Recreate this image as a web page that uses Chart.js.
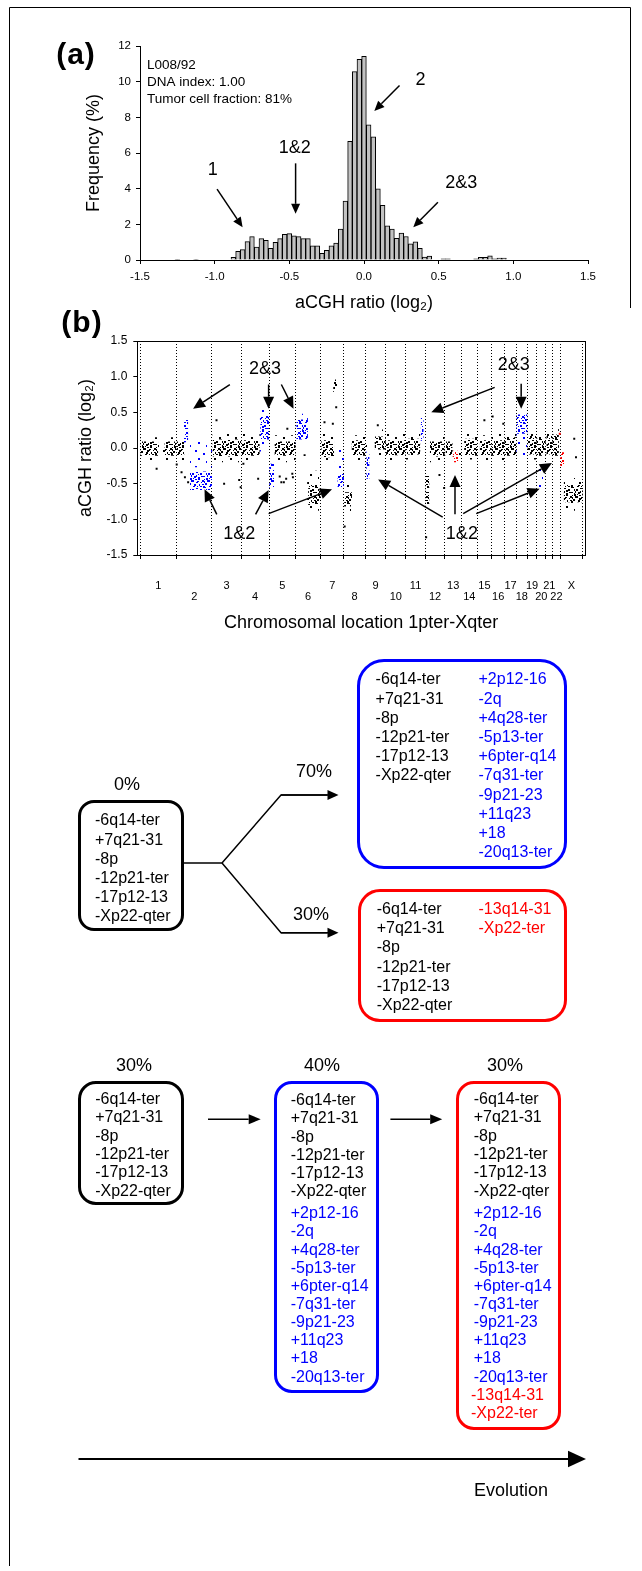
<!DOCTYPE html>
<html>
<head>
<meta charset="utf-8">
<title>L008/92 aCGH clonal evolution</title>
<script src="https://cdn.jsdelivr.net/npm/chart.js@4.4.1/dist/chart.umd.min.js"></script>
<style>
  html, body { margin: 0; padding: 0; background: #fff; }
  body { font-family: "Liberation Sans", Arial, Helvetica, sans-serif; color: #000; }
  #fig { position: relative; width: 642px; height: 1571px; overflow: hidden; }
  #fig > * { position: absolute; }
  .panel { font-weight: bold; font-size: 30px; line-height: 1; letter-spacing: 1px; transform: translate(-50%, -50%); }
  .box { box-sizing: border-box; border: 3px solid #000; }
  .lines { font-size: 16px; white-space: pre; }
  .pct { font-size: 18px; line-height: 1; transform: translate(-50%, -50%); white-space: nowrap; }
</style>
</head>
<body>
<div id="fig">
  <canvas id="histo" width="642" height="320" style="left:0;top:0"></canvas>
  <canvas id="genome" width="642" height="320" style="left:0;top:320px"></canvas>
  <div class="panel" style="left:76px;top:54px">(a)</div>
  <div class="panel" style="left:82px;top:322px">(b)</div>
  <svg id="wires" width="642" height="1571" style="left:0;top:0"></svg>
</div>

<script>
// ---- (a) histogram of log2 ratios, bins of 1/32 ----
const binWidth = 1 / 32;
const binFirst = -40;   // index of first bin (centre = index * binWidth)
const freq = [
  0.04, null, null, null, 0.04, null, null, null, null, null, null, null,
  0.15, 0.49, 0.58, 1.03, 1.31, 0.73, 1.20, 1.10, 0.65, 0.99, 1.20, 1.44,
  1.48, 1.36, 1.31, 1.20, 1.20, 0.80, 0.80, 0.37, 0.54, 0.80, 0.95, 1.73,
  3.30, 6.65, 10.56, 11.25, 11.42, 7.58, 6.91, 3.99, 3.07, 1.92, 1.73, 1.21,
  1.51, 1.32, 0.91, 1.02, 0.65, 0.17, 0.22, null, null, 0.06, 0.06, null,
  null, null, null, null, 0.06, 0.15, 0.15, 0.24, 0.06, 0.11, 0.11
];
const histTicksX = [-1.5, -1.0, -0.5, 0.0, 0.5, 1.0, 1.5];

// ---- (b) genome profile ----
const chromNames = ['1','2','3','4','5','6','7','8','9','10','11','12','13','14','15','16','17','18','19','20','21','22','X'];
const chromLengthMb = [247.2, 242.8, 199.5, 191.3, 180.9, 170.9, 158.8, 146.3, 140.3, 135.4, 134.5, 132.3,
                       114.1, 106.4, 100.3, 88.8, 78.8, 76.1, 63.8, 62.4, 46.9, 49.7, 154.9];

// clouds of clones: chromosome, from/to (Mb on chromosome), ratio range
// clone: 'all' = black (shared), 'c2' = blue, 'c3' = red; density: 'd' dense core, 's' sparse spread
const segChrom   = ['1','1','1','2','2','2','2','3','3','4','4','4','5','5','5','6','6','6','6',
                    '7','7','7','7','7','8','8','9','9','9','10','11','11','11','12','12',
                    '13','13','13','14','14','15','16','17','17','18','18','19','19','20','20',
                    '21','22','X','X','X',
                    '2','4','8','9','10','12','13','15','16','20','21','22','8'];
const segFrom    = [2,165,2,4,51,85,92,4,4,4,130,127,0,36,36,4,0,85,78,
                    4,4,85,114,110,1,52,6,0,63,1,1,1,102,1,30,
                    5,55,93,18,18,18,0,0,0,0,0,0,0,0,12,
                    3,0,1,25,25,
                    4,4,52,63,1,30,5,18,0,0,3,0,1];
const segTo      = [123,247,247,55,81,243,243,199,199,127,191,191,33,181,181,84,84,171,171,
                    92,92,112,159,159,55,146,29,30,140,135,100,100,123,28,132,
                    54,92,114,106,106,100,89,79,79,76,76,64,64,62,62,
                    47,42,28,154,154,
                    55,127,146,140,135,132,54,100,89,62,47,42,55];
const segLow     = [-0.11,-0.11,-0.18,-0.11,0.08,-0.27,-0.59,-0.12,-0.20,-0.11,0.12,-0.05,-0.57,-0.11,-0.20,0.12,0.05,-0.80,-0.88,
                    -0.13,-0.20,0.78,-0.56,-0.38,-0.82,-0.11,-0.43,-0.12,-0.02,-0.10,-0.09,-0.16,0.10,-0.82,-0.12,
                    -0.12,-0.20,-0.12,-0.11,-0.16,-0.11,-0.11,-0.11,-0.18,0.20,-0.12,-0.09,-0.16,-0.11,-0.60,
                    -0.09,-0.11,-0.27,-0.76,-0.88,
                    -0.18,-0.18,-0.18,-0.10,-0.17,-0.20,-0.18,-0.17,-0.17,-0.16,-0.14,-0.16,-0.90];
const segHigh    = [0.09,0.09,0.15,0.09,0.40,0.12,-0.33,0.12,0.22,0.11,0.45,0.58,-0.22,0.09,0.18,0.40,0.48,-0.52,-0.32,
                    0.11,0.22,0.96,-0.38,0.02,-0.62,0.11,-0.05,0.15,0.16,0.11,0.13,0.20,0.42,-0.38,0.09,
                    0.09,-0.04,0.10,0.13,0.20,0.11,0.11,0.15,0.24,0.47,0.20,0.17,0.25,0.13,-0.28,
                    0.17,0.19,-0.06,-0.52,-0.42,
                    0.16,0.20,0.18,0.26,0.20,0.16,0.15,0.18,0.20,0.22,0.26,0.27,-0.52];
const segClone   = ['all','all','all','all','c2','c2','c2','all','all','all','c2','c2','c2','all','all','c2','c2','all','all',
                    'all','all','all','c2','c2','all','all','c2','all','all','all','all','all','c2','all','all',
                    'all','c3','all','all','all','all','all','all','all','c2','c2','all','all','all','c2',
                    'all','all','c3','all','all',
                    'all','all','all','all','all','all','all','all','all','all','all','all','all'];
const segDensity = ['d','d','s','d','d','s','d','d','s','d','d','s','d','d','s','d','s','d','s',
                    'd','s','d','d','s','d','d','d','s','d','d','d','s','d','d','d',
                    'd','d','s','d','s','d','d','d','s','d','s','d','s','d','s',
                    'd','d','d','d','s',
                    's','s','s','s','s','s','s','s','s','s','s','s','s'];

// single probes lying away from the clouds
const outChrom = ['1','2','2','2','2','3','3','3','3','4','4','5','5','5','5','5','5','5','6','7','7','7',
                  '8','9','12','12','12','15','16','16','22','X','X'];
const outPos   = [112,2,35,58,80,31,83,186,196,15,116,72,83,100,116,124,158,162,61,26,83,106,
                  5,85,5,96,128,50,6,79,48,97,109];
const outVal   = [-0.29,-0.23,-0.34,-0.41,-0.48,0.39,-0.50,-0.45,-0.55,-0.22,-0.43,-0.40,-0.48,-0.48,-0.43,0.27,-0.36,-0.41,-0.10,0.36,0.34,0.57,
                  -1.10,0.32,-1.25,-0.38,-0.56,0.39,0.44,0.34,0.20,0.13,-0.13];
const outClone = ['all','all','all','all','all','all','all','all','all','all','all','all','all','all','all','all','all','all','all','all','all','all',
                  'all','all','all','all','all','all','all','all','c3','all','all'];

// ---- (c) clone compositions ----
const commonChanges = ['-6q14-ter', '+7q21-31', '-8p', '-12p21-ter', '-17p12-13', '-Xp22-qter'];
const clone2Changes = ['+2p12-16', '-2q', '+4q28-ter', '-5p13-ter', '+6pter-q14', '-7q31-ter', '-9p21-23', '+11q23', '+18', '-20q13-ter'];
const clone3Changes = ['-13q14-31', '-Xp22-ter'];
const branchShares = ['0%', '70%', '30%'];
const linearShares = ['30%', '40%', '30%'];

const FONT = '"Liberation Sans", Arial, Helvetica, sans-serif';
Chart.defaults.font.family = FONT;
Chart.defaults.color = '#000';

const BLUE = '#0000ff', RED = '#ff0000';
const cloneColor = { all: '#000', c2: BLUE, c3: RED };

// chromosome offsets on the genome axis
const chromStart = [];
let acc = 0;
chromLengthMb.forEach(l => { chromStart.push(acc); acc += l; });
const chromEdges = chromStart.concat([acc]);
const chromMid = chromStart.map((s, i) => s + chromLengthMb[i] / 2);
const gpos = (chr, mb) => chromStart[chromNames.indexOf(chr)] + mb;

// stipple fill used to draw a cloud of probes (16px tile, hand-placed dots)
const DENSE = [[0,0,2,2],[5,1,2,1],[10,0,2,2],[13,3,2,2],[2,4,2,2],[7,4,1,2],[11,6,2,2],[4,8,2,1],
               [0,9,2,2],[8,9,2,2],[14,9,1,2],[2,12,2,2],[6,13,2,2],[11,12,2,1],[14,14,2,2],[9,2,1,1],
               [5,6,1,1],[12,15,1,1],[3,15,2,1],[15,0,1,2],
               [8,6,2,1],[13,7,1,1],[1,6,2,1],[4,2,2,1],[12,1,1,2],[9,12,2,1],[6,15,2,1],[15,11,1,2],
               [1,14,1,1],[4,11,1,2],[10,4,2,1],[6,10,1,1]];
const SPARSE = [[3,2,2,2],[11,5,2,2],[6,10,2,2],[14,13,1,2]];
function stipple(color, dots) {
  const c = document.createElement('canvas');
  c.width = 16; c.height = 16;
  const g = c.getContext('2d');
  g.fillStyle = color;
  dots.forEach(([x, y, w, h]) => g.fillRect(x, y, w, h));
  return g.createPattern(c, 'repeat');
}
const patterns = {};
Object.keys(cloneColor).forEach(k => {
  patterns[k + 'd'] = stipple(cloneColor[k], DENSE);
  patterns[k + 's'] = stipple(cloneColor[k], SPARSE);
});

function drawArrow(ctx, x1, y1, x2, y2, len, half) {
  const a = Math.atan2(y2 - y1, x2 - x1);
  const bx = x2 - len * Math.cos(a), by = y2 - len * Math.sin(a);
  ctx.beginPath(); ctx.moveTo(x1, y1); ctx.lineTo(bx, by); ctx.stroke();
  ctx.beginPath();
  ctx.moveTo(x2, y2);
  ctx.lineTo(bx + half * Math.sin(a), by - half * Math.cos(a));
  ctx.lineTo(bx - half * Math.sin(a), by + half * Math.cos(a));
  ctx.closePath(); ctx.fill();
}

// labels and arrows placed in data units
const notesPlugin = {
  id: 'notes',
  afterDraw(chart, args, opts) {
    const { ctx, scales: { x, y }, chartArea } = chart;
    ctx.save();
    ctx.fillStyle = '#000'; ctx.strokeStyle = '#000';
    if (opts.frame) {
      ctx.lineWidth = 1;
      ctx.strokeRect(Math.round(chartArea.left) + 0.5, Math.round(chartArea.top) + 0.5,
        Math.round(chartArea.right - chartArea.left), Math.round(chartArea.bottom - chartArea.top));
    }
    ctx.lineWidth = opts.lineWidth || 1.5;
    (opts.arrows || []).forEach(a => drawArrow(ctx, x.getPixelForValue(a[0]), y.getPixelForValue(a[1]),
      x.getPixelForValue(a[2]), y.getPixelForValue(a[3]), opts.head[0], opts.head[1]));
    ctx.font = '18px ' + FONT;
    ctx.textAlign = 'center'; ctx.textBaseline = 'middle';
    (opts.labels || []).forEach(l => ctx.fillText(l[0], x.getPixelForValue(l[1]), y.getPixelForValue(l[2])));
    if (opts.info) {
      ctx.font = '13.5px ' + FONT;
      ctx.textAlign = 'left';
      opts.info.forEach((t, i) => ctx.fillText(t, chartArea.left + 7, chartArea.top + 19 + i * 17));
    }
    ctx.restore();
  }
};

// ---- chart (a) ----
new Chart(document.getElementById('histo'), {
  type: 'bar',
  data: {
    datasets: [{
      data: freq.map((f, i) => ({ x: (binFirst + i) * binWidth, y: f })),
      backgroundColor: '#c2c2c2', borderColor: '#000', borderWidth: 1,
      barPercentage: 1, categoryPercentage: 1, grouped: false
    }]
  },
  options: {
    responsive: false, animation: false, events: [], devicePixelRatio: 1,
    layout: { padding: { left: 79, top: 46, right: 54, bottom: 0 } },
    plugins: {
      legend: { display: false }, tooltip: { enabled: false },
      notes: {
        head: [10, 4.5],
        info: ['L008/92', 'DNA index: 1.00', 'Tumor cell fraction: 81%'],
        labels: [['1', -1.013, 5.04], ['1&2', -0.464, 6.26], ['2', 0.379, 10.1], ['2&3', 0.651, 4.34]],
        arrows: [[-0.984, 3.97, -0.813, 1.84], [-0.458, 5.42, -0.458, 2.59],
                 [0.238, 9.79, 0.069, 8.36], [0.495, 3.24, 0.330, 1.84]]
      }
    },
    scales: {
      x: {
        type: 'linear', min: -1.5, max: 1.5, offset: false,
        afterBuildTicks: s => { s.ticks = histTicksX.map(v => ({ value: v })); },
        grid: { drawOnChartArea: false, drawTicks: true, tickLength: 4, color: '#000', offset: false },
        border: { display: true, color: '#000', width: 1 },
        ticks: { padding: 6, font: { size: 11.5 }, maxRotation: 0, autoSkip: false, callback: v => v.toFixed(1) },
        title: { display: true, text: 'aCGH ratio (log₂)', font: { size: 18 }, padding: { top: 0, bottom: 6 } },
        afterFit: s => { s.height = 60; }
      },
      y: {
        min: 0, max: 12,
        grid: { drawOnChartArea: false, drawTicks: true, tickLength: 4, color: '#000' },
        border: { display: true, color: '#000', width: 1 },
        ticks: { stepSize: 2, padding: 5, font: { size: 11.5 } },
        title: { display: true, text: 'Frequency (%)', font: { size: 18 }, padding: { top: 4, bottom: 0 } },
        afterFit: s => { s.width = 61; }
      }
    }
  },
  plugins: [notesPlugin]
});

// ---- chart (b) ----
const cloneOrder = { all: 3, c2: 2, c3: 1 };
const segSets = segChrom.map((c, i) => ({
  type: 'line',
  data: [{ x: gpos(c, segFrom[i]), y: segHigh[i] }, { x: gpos(c, segTo[i]), y: segHigh[i] }],
  fill: { value: segLow[i] },
  backgroundColor: patterns[segClone[i] + segDensity[i]],
  borderColor: 'rgba(0,0,0,0)', borderWidth: 0, pointRadius: 0,
  order: cloneOrder[segClone[i]]
}));
const outSet = {
  type: 'scatter',
  data: outChrom.map((c, i) => ({ x: gpos(c, outPos[i]), y: outVal[i] })),
  pointStyle: 'rect', pointRadius: 1.4, borderWidth: 0,
  backgroundColor: outClone.map(k => cloneColor[k]),
  order: 0
};

new Chart(document.getElementById('genome'), {
  type: 'line',
  data: { datasets: segSets.concat([outSet]) },
  options: {
    responsive: false, animation: false, events: [], devicePixelRatio: 1,
    layout: { padding: { left: 71, top: 21, right: 57, bottom: 0 } },
    plugins: {
      legend: { display: false }, tooltip: { enabled: false },
      notes: {
        frame: true, head: [12, 5.5],
        labels: [['2&3', 852, 1.11], ['2&3', 2552, 1.16], ['1&2', 676, -1.21], ['1&2', 2197, -1.21]],
        arrows: [[612, 0.89, 361, 0.55], [877, 0.89, 877, 0.55], [964, 0.89, 1047, 0.55],
                 [2421, 0.85, 1988, 0.50], [2602, 0.90, 2602, 0.55],
                 [523, -0.93, 439, -0.58], [788, -0.93, 877, -0.59], [877, -0.92, 1310, -0.58],
                 [2066, -0.97, 1625, -0.44], [2150, -0.93, 2150, -0.38],
                 [2206, -0.92, 2812, -0.21], [2295, -0.92, 2728, -0.57]]
      }
    },
    scales: {
      x: {
        type: 'linear', min: -20, max: 3038, weight: 0,
        afterBuildTicks: s => { s.ticks = chromEdges.map(v => ({ value: v })); },
        grid: { drawOnChartArea: true, drawTicks: true, tickLength: 4, color: '#000', lineWidth: 1, tickBorderDash: [] },
        border: { display: true, color: '#000', dash: [1, 2] },
        ticks: { autoSkip: false, maxRotation: 0, callback: () => '' },
        afterFit: s => { s.height = 6; }
      },
      x2: {
        type: 'linear', position: 'bottom', min: -20, max: 3038, weight: 1,
        afterBuildTicks: s => { s.ticks = chromMid.map(v => ({ value: v })); },
        grid: { display: false }, border: { display: false },
        ticks: {
          autoSkip: false, maxRotation: 0, padding: 11.5, font: { size: 11, lineHeight: 1.0 },
          callback: (v, i) => i % 2 === 0 ? [chromNames[i], ''] : ['', chromNames[i]]
        },
        title: { display: true, text: 'Chromosomal location 1pter-Xqter', font: { size: 18 }, padding: { top: 0, bottom: 6.2 } },
        afterFit: s => { s.height = 79; }
      },
      y: {
        min: -1.5, max: 1.5,
        grid: { drawOnChartArea: false, drawTicks: true, tickLength: 4, color: '#000' },
        border: { display: true, color: '#000' },
        ticks: { stepSize: 0.5, padding: 6, font: { size: 12 }, callback: v => v.toFixed(1) },
        title: { display: true, text: 'aCGH ratio (log₂)', font: { size: 18 }, padding: { top: 4, bottom: 0 } },
        afterFit: s => { s.width = 66.3; }
      }
    }
  },
  plugins: [notesPlugin]
});

// ---- clone diagram ----
const fig = document.getElementById('fig');
function box(left, top, w, h, color, radius) {
  const d = document.createElement('div');
  d.className = 'box';
  d.style.cssText = `left:${left}px;top:${top}px;width:${w}px;height:${h}px;border-color:${color};border-radius:${radius}px`;
  fig.appendChild(d);
}
function lines(list, left, firstMid, lh, color) {
  const d = document.createElement('div');
  d.className = 'lines';
  d.style.cssText = `left:${left}px;top:${firstMid - lh / 2}px;line-height:${lh}px;color:${color}`;
  d.textContent = list.join('\n');
  fig.appendChild(d);
}
function pct(text, cx, cy) {
  const d = document.createElement('div');
  d.className = 'pct';
  d.style.cssText = `left:${cx}px;top:${cy}px`;
  d.textContent = text;
  fig.appendChild(d);
}

// branching model
box(78, 800, 106, 131, '#000', 16);
lines(commonChanges, 95, 820, 19.2, '#000');
box(357, 659, 210, 210, BLUE, 27);
lines(commonChanges, 375.6, 679, 19.2, '#000');
lines(clone2Changes, 478.5, 679, 19.2, BLUE);
box(358, 889, 209, 133, RED, 22);
lines(commonChanges, 376.7, 908.3, 19.3, '#000');
lines(clone3Changes, 478.5, 908.3, 19.3, RED);
pct(branchShares[0], 127, 784);
pct(branchShares[1], 314, 771);
pct(branchShares[2], 311, 914);

// linear model
box(78, 1081, 106, 124, '#000', 18);
lines(commonChanges, 95.2, 1099.3, 18.3, '#000');
box(274, 1081, 105, 312, BLUE, 18);
lines(commonChanges, 290.7, 1100.3, 18.2, '#000');
lines(clone2Changes, 290.7, 1213.3, 18.15, BLUE);
box(456, 1081, 105, 349, RED, 18);
lines(commonChanges, 473.7, 1099.3, 18.3, '#000');
lines(clone2Changes, 473.7, 1213.3, 18.15, BLUE);
lines(clone3Changes, 471, 1395, 18.3, RED);
pct(linearShares[0], 134, 1065);
pct(linearShares[1], 322, 1065);
pct(linearShares[2], 505, 1065);

const ev = document.createElement('div');
ev.className = 'pct';
ev.style.cssText = 'left:511px;top:1490px';
ev.textContent = 'Evolution';
fig.appendChild(ev);

// connectors, arrows and the outer frame
const svg = document.getElementById('wires');
const NS = 'http://www.w3.org/2000/svg';
function path(d, w, fill) {
  const p = document.createElementNS(NS, 'path');
  p.setAttribute('d', d);
  p.setAttribute('stroke', fill ? 'none' : '#000');
  p.setAttribute('stroke-width', w);
  p.setAttribute('fill', fill ? '#000' : 'none');
  svg.appendChild(p);
}
function hArrow(x1, x2, y, len, half, w) {
  path(`M${x1} ${y} H${x2 - len}`, w);
  path(`M${x2} ${y} L${x2 - len} ${y - half} L${x2 - len} ${y + half} Z`, 0, true);
}
path('M184 863 H222 L281 795 H328', 1.5);
path('M222 863 L281 932.7 H328', 1.5);
hArrow(281, 338.5, 795, 11, 5, 1.5);
hArrow(281, 338.5, 932.7, 11, 5, 1.5);
hArrow(208, 260.7, 1119.3, 12, 5, 1.5);
hArrow(390.4, 442.2, 1119.3, 12, 5, 1.5);
hArrow(78.5, 586, 1459, 18, 8.3, 2);
path('M9.5 1566 V7.5 H630.5 V308', 1);
</script>
</body>
</html>
